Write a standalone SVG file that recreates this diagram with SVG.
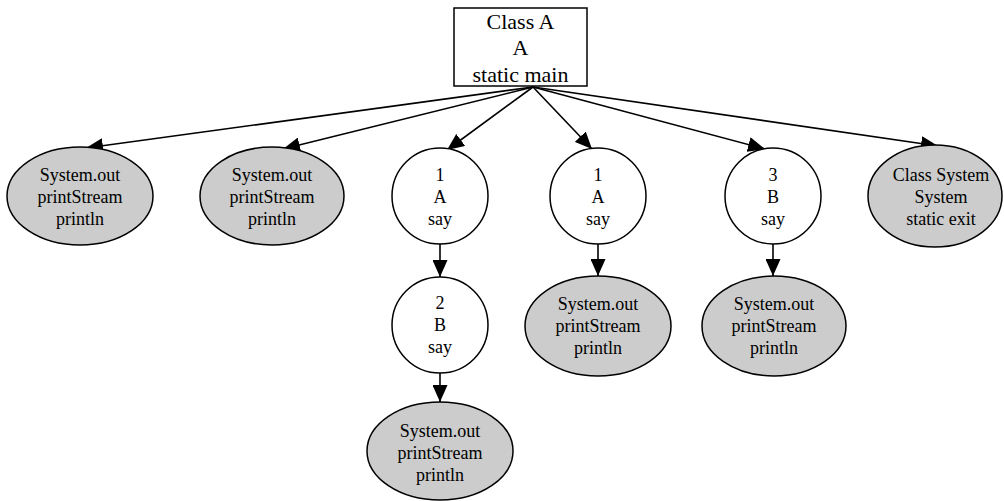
<svg xmlns="http://www.w3.org/2000/svg" width="1004" height="501" viewBox="0 0 1004 501">
<style>
.box{fill:#fff;stroke:#000;stroke-width:1.5}
.fn{fill:#cccccc;stroke:#000;stroke-width:1.5}
.cn{fill:#fff;stroke:#000;stroke-width:1.5}
text{font-family:"Liberation Serif","Times New Roman",serif;font-size:18px;text-anchor:middle;fill:#000}
.big{font-size:22px}
.e{stroke:#000;stroke-width:1.6;fill:none;marker-end:url(#ah)}
</style>
<defs>
<marker id="ah" markerUnits="userSpaceOnUse" markerWidth="17" markerHeight="15" refX="17" refY="7.5" orient="auto">
<path d="M0,0 L17,7.5 L0,15 z" fill="#000"/>
</marker>
</defs>
<rect width="1004" height="501" fill="#fff"/>
<g id="edges">
<line class="e" x1="533" y1="87" x2="86" y2="148"/>
<line class="e" x1="533" y1="87" x2="283" y2="149"/>
<line class="e" x1="533" y1="87" x2="447" y2="150"/>
<line class="e" x1="533" y1="87" x2="592" y2="149"/>
<line class="e" x1="533" y1="87" x2="765" y2="149"/>
<line class="e" x1="533" y1="87" x2="938" y2="146"/>
<line class="e" x1="440" y1="244" x2="440" y2="277"/>
<line class="e" x1="598" y1="244" x2="598" y2="276"/>
<line class="e" x1="773" y1="244" x2="773" y2="276"/>
<line class="e" x1="440" y1="373" x2="440" y2="402"/>
</g>
<g id="classA">
<rect class="box" x="454" y="8" width="133" height="78"/>
<text class="big" x="520.5" y="29">Class A</text>
<text class="big" x="520.5" y="55">A</text>
<text class="big" x="520.5" y="82">static main</text>
</g>
<g id="out1">
<ellipse class="fn" cx="80" cy="196" rx="73" ry="49"/>
<text x="80" y="181">System.out</text>
<text x="80" y="203">printStream</text>
<text x="80" y="225">println</text>
</g>
<g id="out2">
<ellipse class="fn" cx="272" cy="196" rx="72" ry="49"/>
<text x="272" y="181">System.out</text>
<text x="272" y="203">printStream</text>
<text x="272" y="225">println</text>
</g>
<g id="say1a">
<circle class="cn" cx="440" cy="196" r="48"/>
<text x="440" y="181">1</text>
<text x="440" y="203">A</text>
<text x="440" y="225">say</text>
</g>
<g id="say1b">
<circle class="cn" cx="598" cy="196" r="48"/>
<text x="598" y="181">1</text>
<text x="598" y="203">A</text>
<text x="598" y="225">say</text>
</g>
<g id="say3">
<circle class="cn" cx="773" cy="196" r="48"/>
<text x="773" y="181">3</text>
<text x="773" y="203">B</text>
<text x="773" y="225">say</text>
</g>
<g id="sysExit">
<ellipse class="fn" cx="935" cy="196" rx="67" ry="51"/>
<text x="941" y="181">Class System</text>
<text x="941" y="203">System</text>
<text x="941" y="225">static exit</text>
</g>
<g id="say2">
<circle class="cn" cx="440" cy="325" r="48"/>
<text x="440" y="309">2</text>
<text x="440" y="331">B</text>
<text x="440" y="353">say</text>
</g>
<g id="out3">
<ellipse class="fn" cx="598" cy="326" rx="73" ry="50"/>
<text x="598" y="310">System.out</text>
<text x="598" y="332">printStream</text>
<text x="598" y="354">println</text>
</g>
<g id="out4">
<ellipse class="fn" cx="774" cy="326" rx="72" ry="50"/>
<text x="774" y="310">System.out</text>
<text x="774" y="332">printStream</text>
<text x="774" y="354">println</text>
</g>
<g id="out5">
<ellipse class="fn" cx="440" cy="451" rx="73" ry="49"/>
<text x="440" y="437">System.out</text>
<text x="440" y="459">printStream</text>
<text x="440" y="481">println</text>
</g>
</svg>
